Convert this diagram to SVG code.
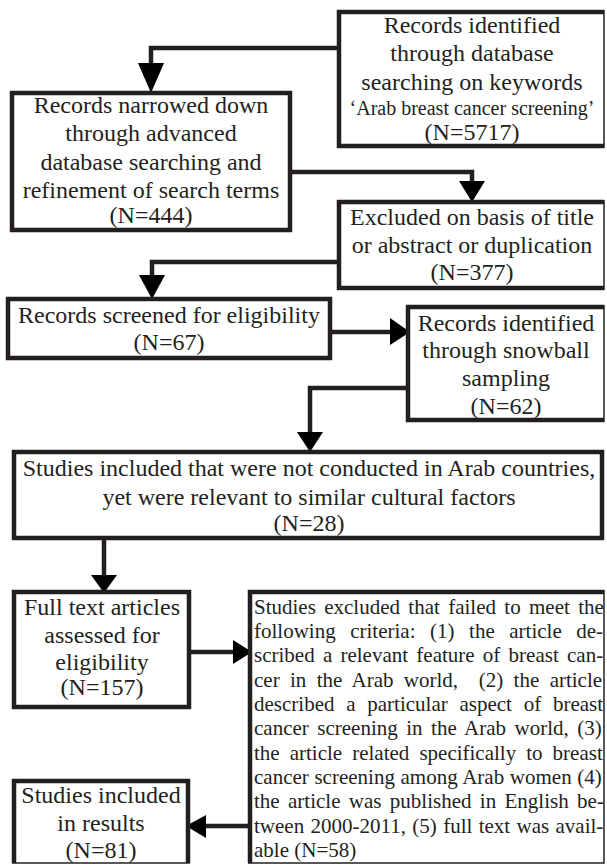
<svg xmlns="http://www.w3.org/2000/svg" width="607" height="865" viewBox="0 0 607 865">
<style>
.box{fill:#fff;stroke:#231f20;stroke-width:4.5}
.edge{fill:none;stroke:#231f20;stroke-width:1.5}
.ln{fill:none;stroke:#231f20;stroke-width:4.5}
.ah{fill:#000;stroke:none}
.t{font-family:'Liberation Serif','Times New Roman',Tinos,'DejaVu Serif',serif;fill:#231f20}
.c{font-size:24px;text-anchor:middle}
.s{font-size:20px;text-anchor:middle}
.j{font-size:21px}
</style>
<rect width="607" height="865" fill="#fff"/>
<g id="connectors">
<path class="ln" d="M339,48 H151 V65"/>
<polygon class="ah" points="138,63 164,63 151,93"/>
<path class="ln" d="M290,172 H472 V183"/>
<polygon class="ah" points="459,181 485,181 472,202"/>
<path class="ln" d="M339,262 H152 V277"/>
<polygon class="ah" points="139,275 165,275 152,299"/>
<path class="ln" d="M330,332 H392"/>
<polygon class="ah" points="390,318 390,345 410,332"/>
<path class="ln" d="M408,388 H310 V434"/>
<polygon class="ah" points="297,432 323,432 310,452"/>
<path class="ln" d="M104,538 V577"/>
<polygon class="ah" points="91,575 117,575 104,593"/>
<path class="ln" d="M189,652 H235"/>
<polygon class="ah" points="233,640 233,664 252,652"/>
<path class="ln" d="M250,826 H204"/>
<polygon class="ah" points="206,815 206,838 186,826"/>
</g>
<g id="n1" class="t">
<path class="box" d="M604,12 H339 V146 H604"/>
<path class="edge" d="M604,10 V148"/>
<text class="c" x="472" y="33">Records identified</text>
<text class="c" x="472" y="61">through database</text>
<text class="c" x="472" y="90">searching on keywords</text>
<text class="s" x="472" y="115">‘Arab breast cancer screening’</text>
<text class="c" x="472" y="140">(N=5717)</text>
</g>
<g id="n2" class="t">
<rect class="box" x="12" y="93" width="278" height="137"/>
<text class="c" x="151" y="113">Records narrowed down</text>
<text class="c" x="151" y="141">through advanced</text>
<text class="c" x="151" y="170">database searching and</text>
<text class="c" x="151" y="198">refinement of search terms</text>
<text class="c" x="151" y="223">(N=444)</text>
</g>
<g id="n3" class="t">
<path class="box" d="M604,202 H339 V288 H604"/>
<path class="edge" d="M604,200 V290"/>
<text class="c" x="472" y="225">Excluded on basis of title</text>
<text class="c" x="472" y="253">or abstract or duplication</text>
<text class="c" x="472" y="280">(N=377)</text>
</g>
<g id="n4" class="t">
<rect class="box" x="8" y="299" width="322" height="59"/>
<text class="c" x="169" y="323">Records screened for eligibility</text>
<text class="c" x="169" y="350">(N=67)</text>
</g>
<g id="n5" class="t">
<path class="box" d="M604,307 H408 V420 H604"/>
<path class="edge" d="M604,305 V422"/>
<text class="c" x="506" y="331">Records identified</text>
<text class="c" x="506" y="358">through snowball</text>
<text class="c" x="506" y="386">sampling</text>
<text class="c" x="506" y="414">(N=62)</text>
</g>
<g id="n6" class="t">
<rect class="box" x="14" y="452" width="588" height="86"/>
<text class="c" x="309" y="476">Studies included that were not conducted in Arab countries,</text>
<text class="c" x="309" y="505">yet were relevant to similar cultural factors</text>
<text class="c" x="309" y="531">(N=28)</text>
</g>
<g id="n7" class="t">
<rect class="box" x="14" y="592" width="175" height="115"/>
<text class="c" x="102" y="615">Full text articles</text>
<text class="c" x="102" y="643">assessed for</text>
<text class="c" x="102" y="670">eligibility</text>
<text class="c" x="102" y="695">(N=157)</text>
</g>
<g id="n8" class="t">
<path class="box" d="M604,592 H250 V863"/>
<path class="edge" d="M604,590 V863 H248"/>
<text class="j" x="254" y="614" word-spacing="3.1">Studies excluded that failed to meet the</text>
<text class="j" x="254" y="638" word-spacing="9.3">following criteria: (1) the article de-</text>
<text class="j" x="254" y="662" word-spacing="3">scribed a relevant feature of breast can-</text>
<text class="j" x="254" y="687" word-spacing="5.1" xml:space="preserve">cer in the Arab world,  (2) the article</text>
<text class="j" x="254" y="711" word-spacing="6.5">described a particular aspect of breast</text>
<text class="j" x="254" y="735" word-spacing="3.25">cancer screening in the Arab world, (3)</text>
<text class="j" x="254" y="760" word-spacing="4.8">the article related specifically to breast</text>
<text class="j" x="254" y="784" word-spacing="0.4">cancer screening among Arab women (4)</text>
<text class="j" x="254" y="808" word-spacing="3.1">the article was published in English be-</text>
<text class="j" x="254" y="833" word-spacing="1.1">tween 2000-2011, (5) full text was avail-</text>
<text class="j" x="254" y="857">able (N=58)</text>
</g>
<g id="n9" class="t">
<path class="box" d="M14,863 V781 H188 V863"/>
<path class="edge" d="M12,863 H190"/>
<text class="c" x="101" y="803">Studies included</text>
<text class="c" x="101" y="831">in results</text>
<text class="c" x="101" y="858">(N=81)</text>
</g>
</svg>
